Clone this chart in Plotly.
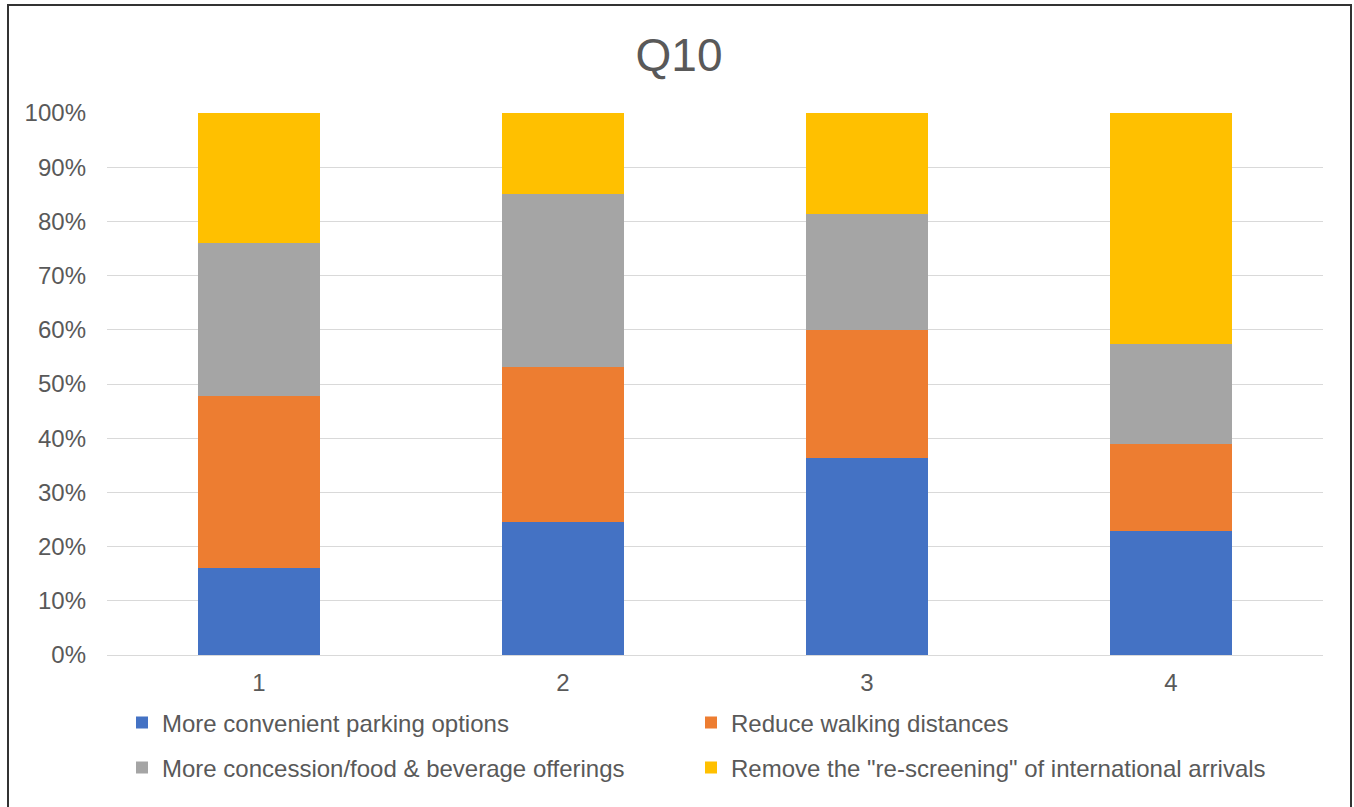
import plotly.graph_objects as go

# Survey responses for Q10, share of each option per group (percent of group total)
groups = ["1", "2", "3", "4"]
parking = [16.1, 24.6, 36.3, 22.9]
walking = [31.7, 28.6, 23.7, 16.1]
concessions = [28.2, 31.9, 21.4, 18.4]
rescreening = [24.0, 14.9, 18.6, 42.6]

series_names = [
    "More convenient parking options",
    "Reduce walking distances",
    "More concession/food & beverage offerings",
    'Remove the "re-screening" of international arrivals',
]
series_values = [parking, walking, concessions, rescreening]
series_colors = ["#4472C4", "#ED7D31", "#A5A5A5", "#FFC000"]
series_legends = ["legend", "legend2", "legend3", "legend4"]

W, H = 1354, 807
L, R, T, B = 107, 31, 113, 152
PW = W - L - R
PH = H - T - B

font_family = "Liberation Sans, Arial, sans-serif"
text_color = "#595959"

fig = go.Figure()
for name, vals, color, lg in zip(series_names, series_values, series_colors, series_legends):
    fig.add_trace(go.Bar(
        x=groups, y=vals, name=name, legend=lg, showlegend=True,
        marker=dict(color=color, line=dict(width=0)),
        hoverinfo="x+y+name",
    ))


def px_x(px):
    return (px - L) / PW


def px_y(py):
    return (H - B - py) / PH


legend_common = dict(
    orientation="h",
    font=dict(family=font_family, size=24, color=text_color),
    bgcolor="rgba(0,0,0,0)",
    itemwidth=30,
    xanchor="left",
    yanchor="middle",
)

# Two-by-two legend grid below the plot
col_x = [122, 691]
row_y = [723, 768]

fig.update_layout(
    width=W, height=H,
    margin=dict(l=L, r=R, t=T, b=B, pad=0),
    paper_bgcolor="white",
    plot_bgcolor="white",
    showlegend=True,
    barmode="stack",
    barnorm="percent",
    bargap=0.6,
    title=dict(
        text="Q10", x=px_x(679), xanchor="center", y=1 - 55 / H, yanchor="middle",
        xref="paper",
        font=dict(family=font_family, size=46, color=text_color),
    ),
    font=dict(family=font_family, color=text_color),
    legend=dict(x=px_x(col_x[0]), y=px_y(row_y[0]), **legend_common),
    legend2=dict(x=px_x(col_x[1]), y=px_y(row_y[0]), **legend_common),
    legend3=dict(x=px_x(col_x[0]), y=px_y(row_y[1]), **legend_common),
    legend4=dict(x=px_x(col_x[1]), y=px_y(row_y[1]), **legend_common),
    xaxis=dict(
        type="category",
        showgrid=False,
        showline=True, linecolor="#D9D9D9", linewidth=1,
        ticks="", tickfont=dict(family=font_family, size=24, color=text_color),
        ticklabelstandoff=6,
    ),
    yaxis=dict(
        range=[0, 100],
        dtick=10,
        ticksuffix="%",
        showgrid=True, gridcolor="#D9D9D9", gridwidth=1,
        zeroline=False,
        showline=False,
        ticks="",
        ticklabelstandoff=20,
        tickfont=dict(family=font_family, size=24, color=text_color),
    ),
    shapes=[
        dict(
            type="rect", xref="paper", yref="paper",
            x0=px_x(8), x1=px_x(1351), y0=px_y(815), y1=px_y(5),
            line=dict(color="#333333", width=2), fillcolor="rgba(0,0,0,0)",
            layer="below",
        )
    ],
)

fig.write_html("out.html")
